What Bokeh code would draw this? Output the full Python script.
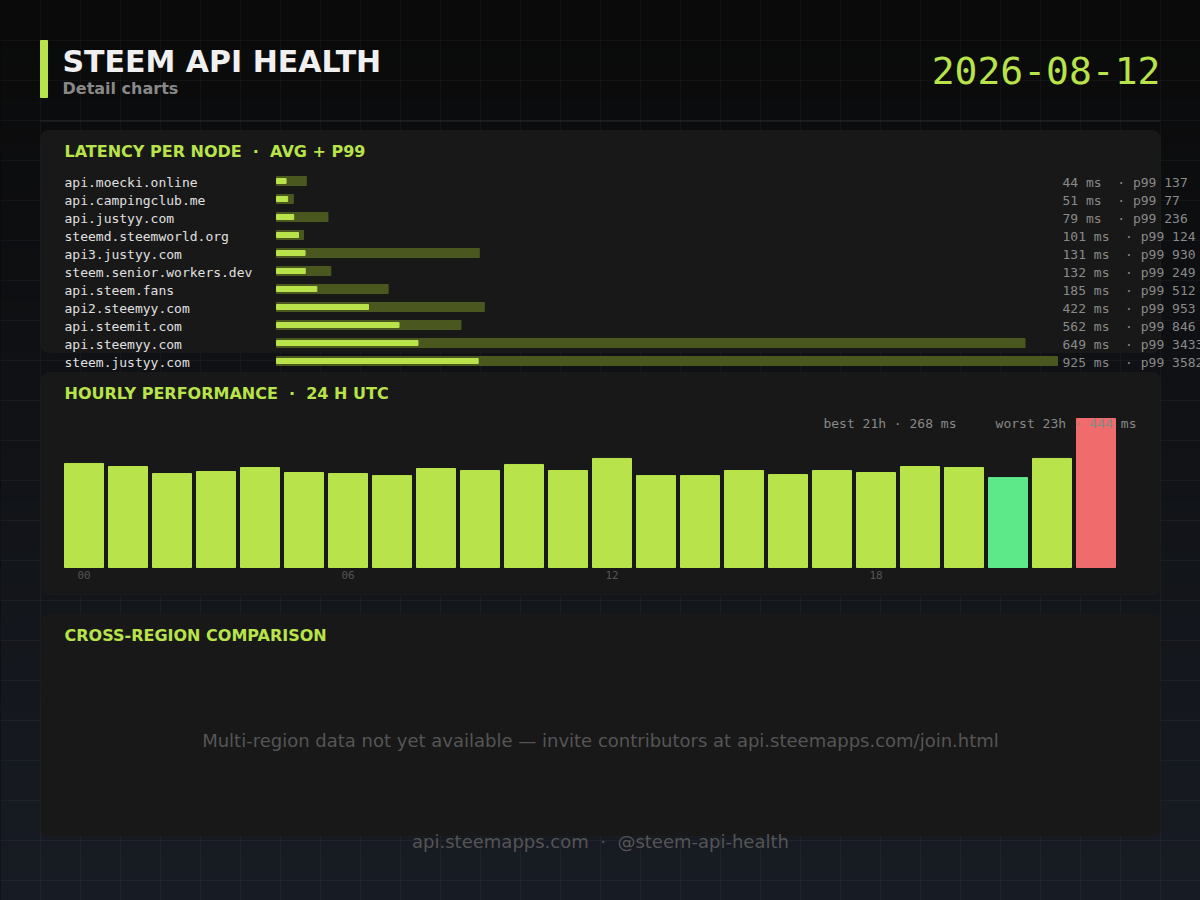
import numpy as np
from bokeh.plotting import figure
from bokeh.models import Range1d, BoxAnnotation, ColumnDataSource
from bokeh.core.properties import value
from bokeh.embed import file_html
from bokeh.resources import INLINE

# ---- data ----
nodes = ["api.moecki.online", "api.campingclub.me", "api.justyy.com",
         "steemd.steemworld.org", "api3.justyy.com", "steem.senior.workers.dev",
         "api.steem.fans", "api2.steemyy.com", "api.steemit.com",
         "api.steemyy.com", "steem.justyy.com"]
avg_ms = [44, 51, 79, 101, 131, 132, 185, 422, 562, 649, 925]
p99_ms = [137, 77, 236, 124, 930, 249, 512, 953, 846, 3433, 3582]

hours = list(range(24))
hourly_ms = [310, 301, 280, 286, 298, 283, 280, 274, 295, 289, 307, 289,
             325, 274, 274, 289, 277, 289, 283, 301, 298, 268, 325, 444]
hour_ticks = [0, 6, 12, 18]

report_date = "2026-08-12"
no_region_msg = "Multi-region data not yet available \u2014 invite contributors at api.steemapps.com/join.html"
footer_txt = "api.steemapps.com  \u00b7  @steem-api-health"


def keep_spaces(s):
    # svg text collapses runs of spaces
    return s.replace(" ", "\u00a0")


def bl(y, size):
    # svg "alphabetic" text lands ~0.37em low, pull it back up
    return y - 0.37 * size


# ---- colours / fonts ----
LIME = "#b8e34a"
OLIVE = "#4a581f"
BEST = "#5de88a"
WORST = "#f06b6b"
PANEL = "#181818"
SANS = value("DejaVu Sans")
MONO = value("DejaVu Sans Mono")

W, H = 1200, 900  # data units == page pixels

p = figure(width=W, height=H, x_range=Range1d(0, W), y_range=Range1d(H, 0),
           output_backend="svg", toolbar_location=None, min_border=0)
p.axis.visible = False
p.grid.visible = False
p.outline_line_color = None
p.background_fill_color = "#0a0a0a"
p.border_fill_color = "#0a0a0a"

# latency scale: 0 ms at x=276, widest p99 bar 781 px; rows 18 px apart
lat_k = 781 / max(p99_ms)
p.extra_x_ranges["lat"] = Range1d(-276 / lat_k, (W - 276) / lat_k)
p.extra_y_ranges["row"] = Range1d((H - 180.5) / 18, -180.5 / 18)

# hourly scale: bar pitch 44 px starting at 83.5, baseline y=567, tallest bar 149 px
hr_k = 149 / max(hourly_ms)
p.extra_x_ranges["hr"] = Range1d(-83.5 / 44, (W - 83.5) / 44)
p.extra_y_ranges["hms"] = Range1d(-(H - 567) / hr_k, 567 / hr_k)

# background gradient + faint grid
edges = np.arange(0, H, 10)
t = (edges + 5) / H
cols = ["#%02x%02x%02x" % (int(10 + 14 * f), int(10 + 18 * f), int(10 + 26 * f)) for f in t]
bg = p.quad(left=0, right=W, top=edges, bottom=edges + 10, color=cols)
bg.level = "image"
gx = np.arange(40, W, 40)
gy = np.arange(40, H, 40)
g1 = p.segment(x0=gx, y0=0, x1=gx, y1=H, line_color="white", line_alpha=0.035)
g2 = p.segment(x0=0, y0=gy, x1=W, y1=gy, line_color="white", line_alpha=0.035)
g1.level = "image"
g2.level = "image"

# panels
for top, bottom in [(130, 352), (372, 594), (614, 836)]:
    p.add_layout(BoxAnnotation(left=40, right=1160, top=top, bottom=bottom,
                               fill_color=PANEL, fill_alpha=1, line_color="#262626",
                               line_width=1, border_radius=8, level="underlay"))

# header
p.quad(left=40, right=47, top=40, bottom=97, color=LIME)
p.segment(x0=40, y0=120.5, x1=1160, y1=120.5, line_color="#2a2a2a", line_width=1)
p.text(x=[62], y=[bl(72, 30)], text=["STEEM API HEALTH"], text_font=SANS, text_font_style="bold",
       text_font_size="30px", text_color="#f0f0f0", text_baseline="alphabetic")
p.text(x=[62], y=[bl(93.5, 16)], text=["Detail charts"], text_font=SANS, text_font_style="bold",
       text_font_size="16px", text_color="#888888", text_baseline="alphabetic")
p.text(x=[1160], y=[bl(84, 38)], text=[report_date], text_font=MONO, text_font_size="38px",
       text_color=LIME, text_align="right", text_baseline="alphabetic")

titles = ["LATENCY PER NODE  \u00b7  AVG + P99", "HOURLY PERFORMANCE  \u00b7  24 H UTC",
          "CROSS-REGION COMPARISON"]
p.text(x=[64, 64, 64], y=[bl(y, 16) for y in (157, 399, 641)],
       text=[keep_spaces(s) for s in titles],
       text_font=SANS, text_font_style="bold", text_font_size="16px", text_color=LIME,
       text_baseline="alphabetic")

# latency per node
lat = ColumnDataSource(dict(
    row=list(range(len(nodes))), node=nodes, avg=avg_ms, p99=p99_ms,
    lbl=[keep_spaces(f"{a} ms  \u00b7 p99 {q}") for a, q in zip(avg_ms, p99_ms)]))
p.hbar(y="row", left=0, right="p99", height=9 / 18, color=OLIVE, source=lat,
       x_range_name="lat", y_range_name="row")
p.hbar(y="row", left=0, right="avg", height=5 / 18, color=LIME, source=lat,
       x_range_name="lat", y_range_name="row")
row_off = bl(6, 13)
p.text(x=64, y="row", text="node", source=lat, y_offset=row_off, y_range_name="row",
       text_font=MONO, text_font_size="13px", text_color="#e0e0e0", text_baseline="alphabetic")
p.text(x=1062, y="row", text="lbl", source=lat, y_offset=row_off, y_range_name="row",
       text_font=MONO, text_font_size="13px", text_color="#8a8a8a", text_baseline="alphabetic")

# hourly performance
best = int(np.argmin(hourly_ms))
worst = int(np.argmax(hourly_ms))
bar_cols = [BEST if h == best else WORST if h == worst else LIME for h in hours]
hr = ColumnDataSource(dict(h=hours, ms=hourly_ms, c=bar_cols))
p.vbar(x="h", top="ms", bottom=0, width=39 / 44, color="c", source=hr,
       x_range_name="hr", y_range_name="hms")
p.text(x=hour_ticks, y=bl(579, 11), text=[f"{h:02d}" for h in hour_ticks], x_range_name="hr",
       text_font=MONO, text_font_size="11px", text_color="#555555", text_align="center",
       text_baseline="alphabetic")
summary = (f"best {best:02d}h \u00b7 {hourly_ms[best]} ms     "
           f"worst {worst:02d}h \u00b7 {hourly_ms[worst]} ms")
p.text(x=[1136], y=[bl(427.5, 13)], text=[keep_spaces(summary)], text_font=MONO,
       text_font_size="13px", text_color="#888888", text_align="right",
       text_baseline="alphabetic")

# cross-region (empty) + footer
p.text(x=[600], y=[bl(747, 18)], text=[no_region_msg], text_font=SANS, text_font_size="18px",
       text_color="#555555", text_align="center", text_baseline="alphabetic")
p.text(x=[600], y=[bl(848, 18)], text=[keep_spaces(footer_txt)], text_font=SANS,
       text_font_size="18px", text_color="#555555", text_align="center",
       text_baseline="alphabetic")

page_css = """
{% block postamble %}
<style>html, body { background: #0a0a0a; overflow: hidden; }</style>
{% endblock %}
"""
open("out.html", "w").write(file_html(p, INLINE, template=page_css))
